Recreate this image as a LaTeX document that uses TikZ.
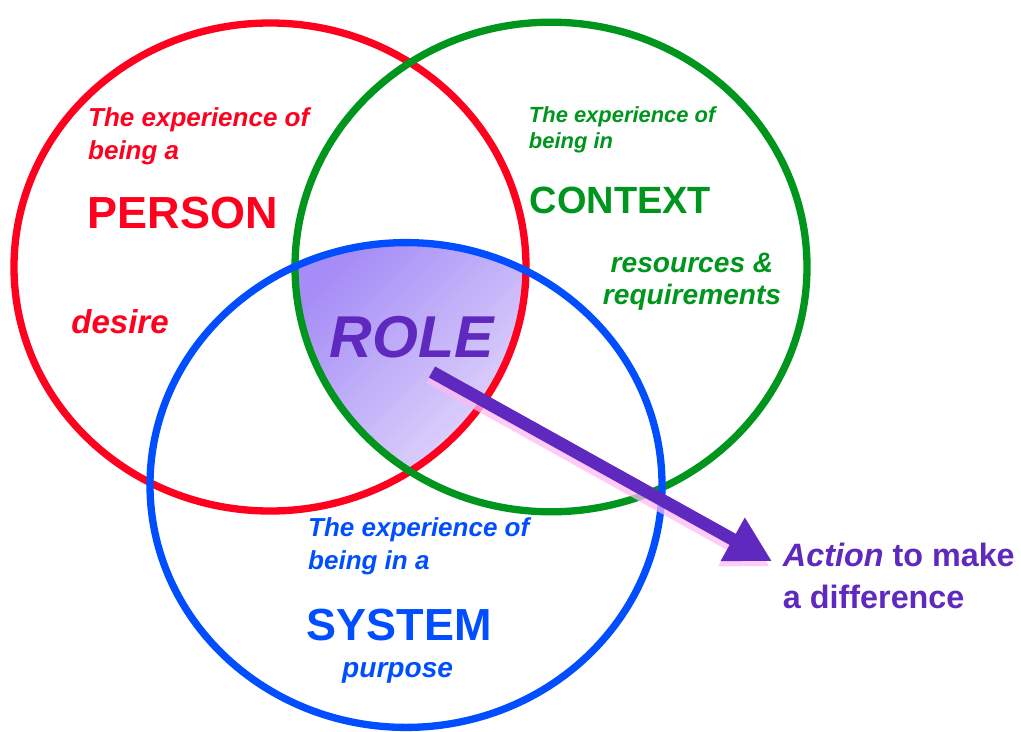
\documentclass[tikz,border=0pt]{standalone}
\usepackage{fontspec}
\setmainfont{Liberation Sans}
\usetikzlibrary{arrows.meta}
\definecolor{vnred}{RGB}{255,0,30}
\definecolor{vngreen}{RGB}{0,150,30}
\definecolor{vnblue}{RGB}{0,78,255}
\definecolor{vnpurple}{RGB}{95,40,190}
\definecolor{vnpink}{RGB}{255,185,245}
\definecolor{roledark}{RGB}{165,140,246}
\definecolor{rolelight}{RGB}{234,226,252}

\begin{document}
\begin{tikzpicture}
    \tikzset{ring/.style={line width=5.2pt},
      lead/.style={anchor=west, align=left, font=\bfseries\itshape\fontsize{18.5}{23.5}\selectfont},
      big/.style={anchor=west, font=\bfseries\fontsize{32}{36}\selectfont},
      note/.style={font=\bfseries\itshape\fontsize{20}{22.8}\selectfont}}
    \useasboundingbox (0,0) rectangle (25.525,-18.275);

    % Shaded overlap of the three rings
    \begin{scope}
      \clip (6.75,-6.675) ellipse [x radius=6.4, y radius=6.1];
      \clip (13.775,-6.675) ellipse [x radius=6.4, y radius=6.12];
      \clip (10.15,-12.125) ellipse [x radius=6.4, y radius=6.06];
      \shade[top color=roledark, bottom color=rolelight, shading angle=45]
        (7.2,-5.9) rectangle (13.3,-13.0);
    \end{scope}

    % Rings
    \draw[ring, vnred] (6.75,-6.675) ellipse [x radius=6.4, y radius=6.1];
    \draw[ring, vngreen] (13.775,-6.675) ellipse [x radius=6.4, y radius=6.12];
    \draw[ring, vnblue] (10.15,-12.125) ellipse [x radius=6.4, y radius=6.06];

    % Person
    \node[lead, text=vnred] (ptop) at (2.08,-3.4) {The experience of\\being a};
    \node[big, text=vnred] (person) at (2.07,-5.325) {PERSON};
    \node[note, anchor=west, text=vnred, font=\bfseries\itshape\fontsize{23.5}{26}\selectfont] (desire) at (1.66,-8.05) {desire};

    % Context
    \node[lead, text=vngreen, font=\bfseries\itshape\fontsize{15.6}{18.5}\selectfont] (ctop) at (13.1,-3.25) {The experience of\\being in};
    \node[big, text=vngreen, font=\bfseries\fontsize{27}{30}\selectfont] (context) at (13.12,-5.0) {CONTEXT};
    \node[note, align=center, text=vngreen] (res) at (17.3,-7.05) {resources \&\\requirements};

    % System
    \node[lead, text=vnblue] (stop) at (7.58,-13.65) {The experience of\\being in a};
    \node[big, text=vnblue] (system) at (7.55,-15.625) {SYSTEM};
    \node[note, anchor=west, text=vnblue] (purpose) at (8.43,-16.825) {purpose};

    % Role and the action arrow
    \node[text=vnpurple, font=\bfseries\itshape\fontsize{42}{46}\selectfont] (role) at (10.29,-8.425) {ROLE};
    \node[anchor=west, align=left, text=vnpurple, font=\bfseries\fontsize{23}{30}\selectfont] (act) at (19.45,-14.4) {\textit{Action} to make\\a difference};
    \coordinate (go) at (10.8,-9.3);
    \coordinate (tip) at (19.3,-14.03);
    \draw[vnpink, opacity=0.75, line width=9pt, -{Triangle[length=32pt,width=33pt]}]
      ([shift={(-0.06,-0.13)}]go) -- ([shift={(-0.06,-0.13)}]tip);
    \draw[vnpurple, line width=9pt, -{Triangle[length=32pt,width=33pt]}] (go) -- (tip);
\end{tikzpicture}
\end{document}
